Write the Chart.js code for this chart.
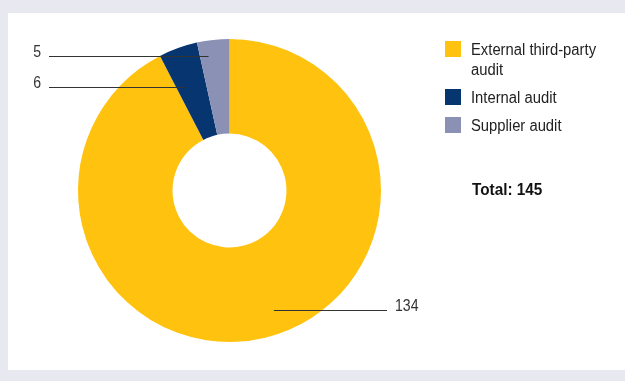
<!DOCTYPE html>
<html>
<head>
<meta charset="utf-8">
<script src="https://cdn.jsdelivr.net/npm/chart.js@4/dist/chart.umd.min.js"></script>
<style>
    html, body { margin: 0; padding: 0; }
    body { width: 625px; height: 381px; background: #e8e8f1; position: relative; overflow: hidden;
           font-family: "Liberation Sans", Arial, sans-serif; }
    #panel { position: absolute; left: 8px; top: 13px; width: 617px; height: 357px; background: #fff; }
    #wrap { position: absolute; left: 0; top: 0; width: 625px; height: 381px; }
    #legend { position: absolute; left: 445px; top: 40px; width: 180px; }
    .item { display: flex; align-items: flex-start; margin-bottom: 8px; }
    .box { width: 16px; height: 16px; margin-top: 1px; margin-right: 10px; flex: none; }
    .txt { font-size: 16px; line-height: 20px; color: #222; width: 140px; flex: none;
           transform: scaleX(0.925); transform-origin: left top; }
    #total { position: absolute; left: 472px; top: 180px; font-size: 17px; line-height: 20px; font-weight: bold; color: #111;
             transform: scaleX(0.9); transform-origin: left top; }
</style>
</head>
<body>
<div id="panel"></div>
<div id="wrap"><canvas id="chart" width="625" height="381"></canvas></div>
<div id="legend"></div>
<div id="total"></div>
<script>
const labels = ["External third-party audit", "Internal audit", "Supplier audit"];
const values = [134, 6, 5];
const colors = ["#ffc20e", "#06356f", "#8b91b5"];

// where the leader line touches each slice
// angle: 0 = start of slice, 1 = end; radius: 0 = inner edge, 1 = outer edge
const anchorAngle = [0.48, 0.29, 0.29];
const anchorRadius = [0.75, 0.59, 0.84];
const leftLineX = 49;
const rightLineX = 387;

let legend = document.getElementById("legend");
labels.forEach((l, i) => {
    let item = document.createElement("div");
    item.className = "item";
    item.innerHTML = '<div class="box" style="background:' + colors[i] + '"></div><div class="txt">' + l + '</div>';
    legend.appendChild(item);
});
document.getElementById("total").textContent = "Total: " + values.reduce((a, b) => a + b, 0);

const leaderLines = {
    id: 'leaderLines',
    afterDatasetsDraw(chart) {
        const ctx = chart.ctx;
        const arcs = chart.getDatasetMeta(0).data;
        ctx.save();
        ctx.font = '16px "Liberation Sans", Arial, sans-serif';
        ctx.fillStyle = "#333";
        ctx.strokeStyle = "#333";
        ctx.lineWidth = 1;
        ctx.textBaseline = "alphabetic";
        arcs.forEach((arc, i) => {
            const p = arc.getProps(['x', 'y', 'startAngle', 'endAngle', 'innerRadius', 'outerRadius'], true);
            const a = p.startAngle + (p.endAngle - p.startAngle) * anchorAngle[i];
            const r = p.innerRadius + (p.outerRadius - p.innerRadius) * anchorRadius[i];
            const ax = p.x + Math.cos(a) * r;
            const ay = Math.round(p.y + Math.sin(a) * r) + 0.5;
            let tx;
            ctx.beginPath();
            if (ax < p.x) {
                ctx.moveTo(leftLineX, ay);
                ctx.lineTo(ax, ay);
                ctx.textAlign = "right";
                tx = leftLineX - 8;
            } else {
                ctx.moveTo(ax, ay);
                ctx.lineTo(rightLineX, ay);
                ctx.textAlign = "left";
                tx = rightLineX + 8;
            }
            ctx.stroke();
            ctx.save();
            ctx.translate(tx, ay);
            ctx.scale(0.88, 1);
            ctx.fillText(values[i], 0, 0);
            ctx.restore();
        });
        ctx.restore();
    }
};

new Chart(document.getElementById("chart"), {
    type: 'doughnut',
    data: {
        labels: labels,
        datasets: [{
            data: values,
            backgroundColor: colors,
            borderWidth: 0
        }]
    },
    options: {
        responsive: false,
        animation: false,
        cutout: '37.6%',
        layout: {
            padding: { left: 78, top: 39, right: 244, bottom: 39 }
        },
        plugins: {
            legend: { display: false },
            tooltip: { enabled: false }
        }
    },
    plugins: [leaderLines]
});
</script>
</body>
</html>
